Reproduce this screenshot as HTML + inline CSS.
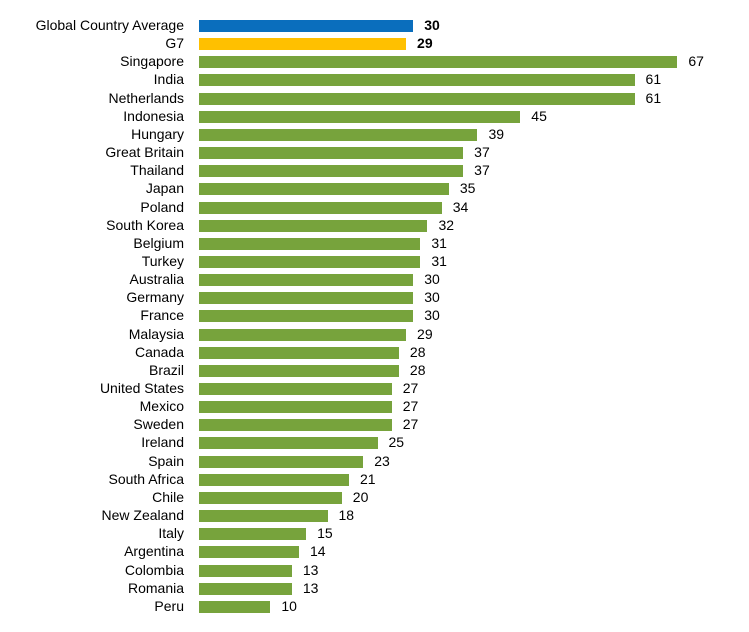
<!DOCTYPE html><html><head><style>
body{margin:0;width:749px;height:632px;background:#fff;font-family:"Liberation Sans",Arial,sans-serif;position:relative;overflow:hidden}
.r{position:absolute;left:0;width:749px;height:12px}
.l{position:absolute;right:565px;top:-3px;font-size:14px;white-space:nowrap;color:#000}
.b{position:absolute;left:199px;top:0;height:12px}
.v{position:absolute;top:-3px;font-size:14px;color:#000}
</style></head><body>
<script>
const d=[["Global Country Average",30,"#0a6ebd",1],["G7",29,"#ffc000",1],["Singapore",67],["India",61],["Netherlands",61],["Indonesia",45],["Hungary",39],["Great Britain",37],["Thailand",37],["Japan",35],["Poland",34],["South Korea",32],["Belgium",31],["Turkey",31],["Australia",30],["Germany",30],["France",30],["Malaysia",29],["Canada",28],["Brazil",28],["United States",27],["Mexico",27],["Sweden",27],["Ireland",25],["Spain",23],["South Africa",21],["Chile",20],["New Zealand",18],["Italy",15],["Argentina",14],["Colombia",13],["Romania",13],["Peru",10]];
let h="";d.forEach((e,i)=>{const y=20+i*18.15,w=e[1]*7.14;
h+=`<div class="r" style="top:${y}px"><span class="l">${e[0]}</span><div class="b" style="width:${w}px;background:${e[2]||'#77a33c'}"></div><span class="v" style="left:${199+w+11}px;${e[3]?'font-weight:bold':''}">${e[1]}</span></div>`});
document.write(h);
</script>
</body></html>
